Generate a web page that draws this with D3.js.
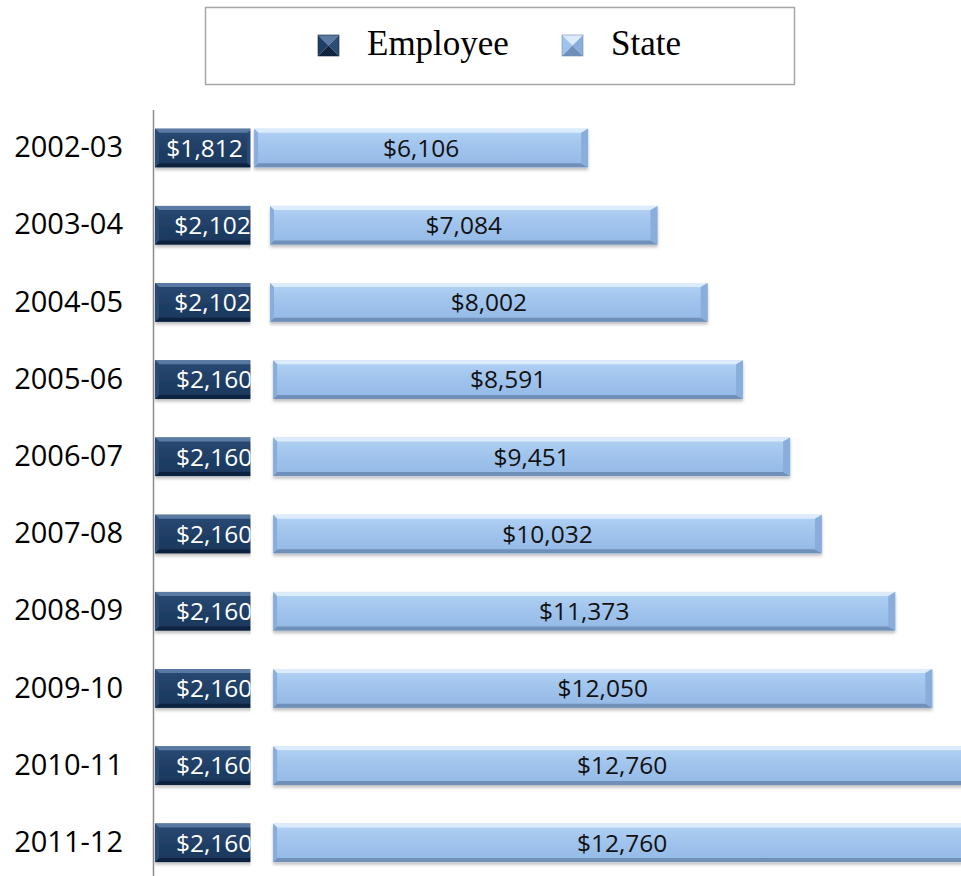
<!DOCTYPE html>
<html>
<head>
<meta charset="utf-8">
<script src="https://cdn.jsdelivr.net/npm/d3@7"></script>
<style>
  body { margin: 0; background: #fff; }
  svg { display: block; }
</style>
</head>
<body>
<div class="chart"></div>
<script>
const years = ["2002-03", "2003-04", "2004-05", "2005-06", "2006-07",
  "2007-08", "2008-09", "2009-10", "2010-11", "2011-12"];
const employee = [1812, 2102, 2102, 2160, 2160, 2160, 2160, 2160, 2160, 2160];
const state = [6106, 7084, 8002, 8591, 9451, 10032, 11373, 12050, 12760, 12760];
const seriesNames = ["Employee", "State"];

const W = 961, H = 876;

const svg = d3.select(".chart")
  .append("svg")
  .attr("width", W)
  .attr("height", H);

const defs = svg.append("defs");

// bevel faces, top to bottom
const palette = {
  Employee: { top: "#5a7aa3", face: ["#2a4a74", "#203f66", "#1b375b"], bottom: "#11243f", side: "#2c4c76", text: "#ffffff" },
  State: { top: "#dcecfd", face: ["#b3d2f4", "#9fc3ec", "#93b9e6"], bottom: "#6f8fb9", side: "#8aaedb", text: "#111111" }
};

seriesNames.forEach(name => {
  const g = defs.append("linearGradient")
    .attr("id", "grad-" + name)
    .attr("x1", 0).attr("y1", 0).attr("x2", 0).attr("y2", 1);
  palette[name].face.forEach((c, i) => {
    g.append("stop").attr("offset", i / 2).attr("stop-color", c);
  });
});

const shadow = defs.append("filter").attr("id", "shadow")
  .attr("x", "-5%").attr("y", "-20%").attr("width", "110%").attr("height", "160%");
shadow.append("feDropShadow")
  .attr("dx", 0).attr("dy", 2.5).attr("stdDeviation", 1.5)
  .attr("flood-color", "#000").attr("flood-opacity", 0.25);

// employee part is cut off at this x in the original
defs.append("clipPath").attr("id", "empClip")
  .append("rect").attr("x", 0).attr("y", 0).attr("width", 250.5).attr("height", H);

// SCALES
const x = d3.scaleLinear().domain([0, 16000]).range([155, 155 + 16000 * 0.0547]);
const y = d3.scaleBand().domain(years).range([109.4, 881.4])
  .paddingInner(0.5).paddingOuter(0.25);

const rows = years.map((yr, i) => ({ year: yr, Employee: employee[i], State: state[i] }));
const stacked = d3.stack().keys(seriesNames)(rows);

function bevelBar(g, x0, x1, top, h, name) {
  const p = palette[name], b = 4, r = 7;
  const y1 = top + h;
  g.append("rect")
    .attr("x", x0).attr("y", top).attr("width", x1 - x0).attr("height", h)
    .attr("fill", "url(#grad-" + name + ")");
  const poly = (pts, fill) => g.append("polygon")
    .attr("points", pts.map(d => d.join(",")).join(" "))
    .attr("fill", fill);
  poly([[x0, top], [x1, top], [x1 - r, top + b], [x0 + b, top + b]], p.top);
  poly([[x0, y1], [x1, y1], [x1 - r, y1 - b], [x0 + b, y1 - b]], p.bottom);
  poly([[x0, top], [x0 + b, top + b], [x0 + b, y1 - b], [x0, y1]], p.side);
  poly([[x1, top], [x1 - r, top + b], [x1 - r, y1 - b], [x1, y1]], p.side);
}

// BARS
stacked.forEach(layer => {
  const name = layer.key;
  const grp = svg.append("g").attr("class", "series " + name);
  if (name === "Employee") grp.attr("clip-path", "url(#empClip)");

  grp.selectAll("g.bar")
    .data(layer)
    .join("g")
    .attr("class", "bar")
    .attr("filter", "url(#shadow)")
    .each(function (d) {
      bevelBar(d3.select(this), x(d[0]), x(d[1]), y(d.data.year), y.bandwidth(), name);
    });

  grp.selectAll("text.val")
    .data(layer)
    .join("text")
    .attr("class", "val")
    .attr("x", d => (x(d[0]) + x(d[1])) / 2)
    .attr("y", d => y(d.data.year) + y.bandwidth() / 2)
    .attr("dy", "0.36em")
    .attr("text-anchor", "middle")
    .attr("font-family", "'Open Sans', sans-serif")
    .attr("font-size", 24.5)
    .attr("fill", palette[name].text)
    .text(d => "$" + d3.format(",")(d[1] - d[0]));
});

// AXIS
const yAxis = d3.axisLeft(y).tickSize(0).tickSizeOuter(0).tickPadding(30);
const yAxisGroup = svg.append("g")
  .attr("class", "axis y-axis")
  .attr("transform", "translate(153,0)")
  .call(yAxis);
yAxisGroup.select(".domain").attr("stroke", "#8c8c8c").attr("stroke-width", 1.5);
yAxisGroup.selectAll("text")
  .attr("font-family", "'Open Sans', sans-serif")
  .attr("font-size", 29)
  .attr("fill", "#000");

// LEGEND
const legend = svg.append("g").attr("class", "legend");
legend.append("rect")
  .attr("x", 205.5).attr("y", 7.5).attr("width", 589).attr("height", 77)
  .attr("fill", "#fff").attr("stroke", "#a6a6a6").attr("stroke-width", 1.5);

const legendItems = [
  { name: "Employee", mx: 318, tx: 367 },
  { name: "State", mx: 562, tx: 611 }
];
legendItems.forEach(it => {
  const p = palette[it.name], s = 21, x0 = it.mx, y0 = 35, c = [x0 + s / 2, y0 + s / 2];
  const lg = legend.append("g");
  const tri = (a, b, fill) => lg.append("polygon")
    .attr("points", [a, b, c].map(d => d.join(",")).join(" ")).attr("fill", fill);
  tri([x0, y0], [x0 + s, y0], p.top);
  tri([x0, y0], [x0, y0 + s], p.face[1]);
  tri([x0 + s, y0], [x0 + s, y0 + s], p.side);
  tri([x0, y0 + s], [x0 + s, y0 + s], p.bottom);
  lg.append("rect").attr("x", x0).attr("y", y0).attr("width", s).attr("height", s)
    .attr("fill", "none").attr("stroke", p.bottom).attr("stroke-width", 0.6);
  legend.append("text")
    .attr("x", it.tx).attr("y", 55)
    .attr("font-family", "'Liberation Serif', 'Times New Roman', serif")
    .attr("font-size", 35)
    .attr("fill", "#000")
    .text(it.name);
});
</script>
</body>
</html>
